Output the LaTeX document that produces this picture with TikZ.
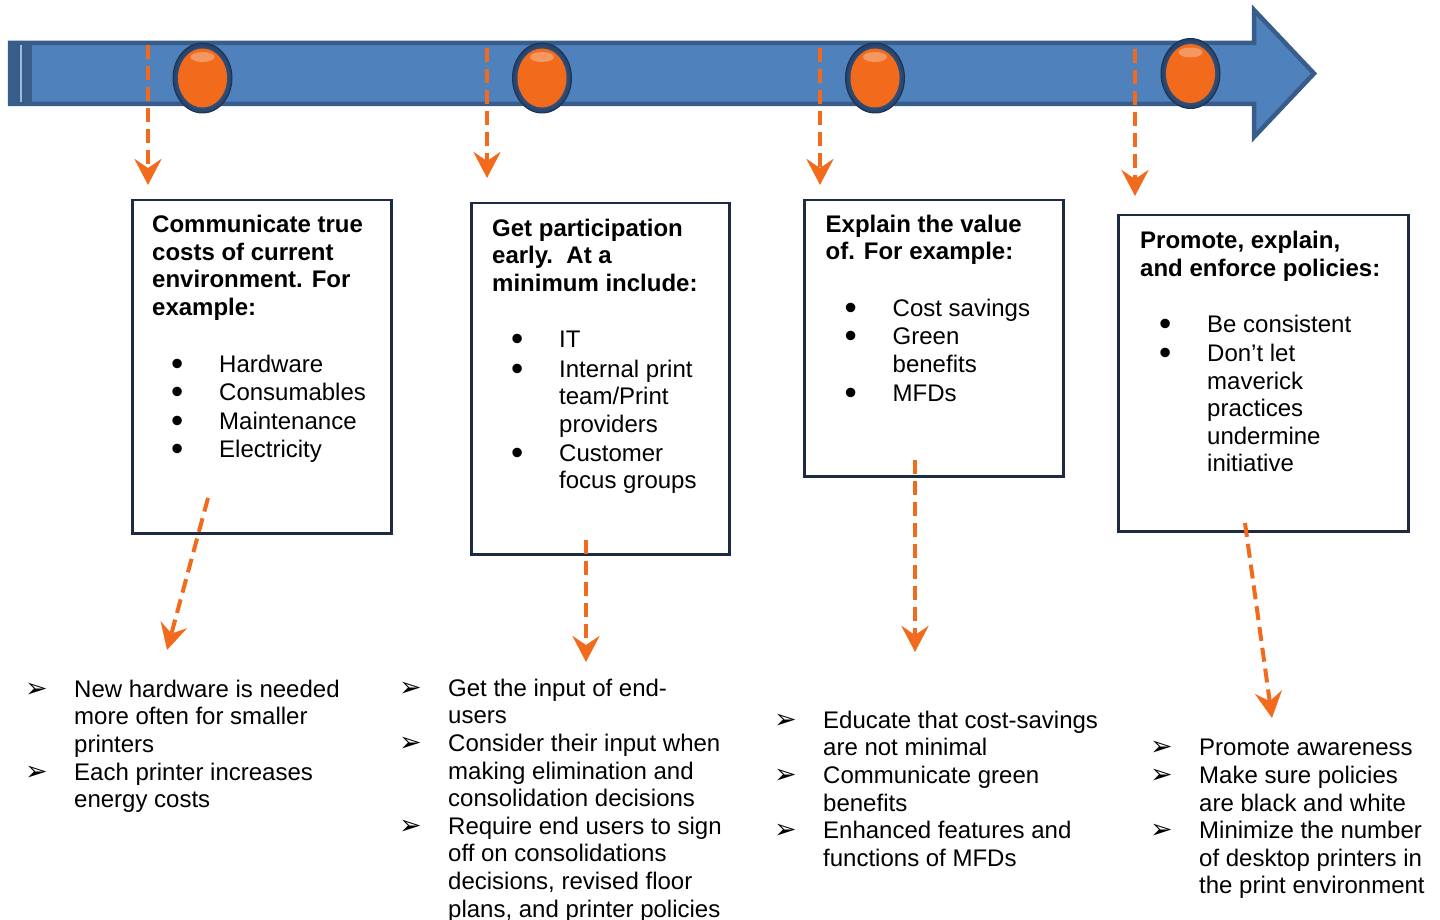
\documentclass[tikz,border=0pt]{standalone}
\usepackage{fontspec}
\setmainfont{Liberation Sans}
\newfontfamily\dingfont{DejaVu Sans}
\usetikzlibrary{arrows.meta,positioning,shapes.geometric}

\definecolor{tlblue}{HTML}{4F81BD}
\definecolor{tledge}{HTML}{385D8A}
\definecolor{tlorange}{HTML}{F26B1D}
\definecolor{boxnavy}{HTML}{1C2A43}
\definecolor{balldark}{HTML}{22406A}

% bullet rows inside the boxes and below them
\newcommand{\bitem}[1]{\hspace*{19pt}\makebox[48pt][l]{\smash{\raisebox{-3pt}{\scalebox{1.45}{\textbullet}}}}#1}
\newcommand{\bcont}[1]{\hspace*{67pt}#1}
\newcommand{\aitem}[1]{\makebox[46pt][l]{\hspace*{-3pt}\dingfont\fontsize{27}{27}\selectfont ➢}#1}
\newcommand{\acont}[1]{\hspace*{46pt}#1}

\begin{document}
\begin{tikzpicture}[x=1pt, y=-1pt,
  box/.style={draw=boxnavy, line width=2.5pt, anchor=north west, inner sep=0pt},
  txt/.style={anchor=north west, inner sep=0pt, font=\fontsize{24}{27.6}\selectfont},
  ball/.style={ellipse, minimum width=59pt, minimum height=70pt, inner sep=0pt,
    draw=balldark!80!black, line width=1pt, inner color=balldark!55, outer color=balldark,
    path picture={
      \fill[tlorange] (path picture bounding box.center) ellipse (24.5pt and 29.5pt);
      \fill[white, opacity=0.3] ([yshift=21pt]path picture bounding box.center) ellipse (12pt and 5pt);
    }},
  flow/.style={tlorange, line width=4pt, dash pattern=on 14pt off 7pt,
    -{Stealth[length=26pt, width=27pt, inset=9pt]}}]

  \path[use as bounding box, fill=white] (0,0) rectangle (1440,920);

  % Timeline arrow
  \draw[tledge, fill=tlblue, line width=4.5pt, line join=miter]
    (10,43) -- (1254,43) -- (1254,10) -- (1314,73.5) -- (1254,137) -- (1254,104) -- (10,104) -- cycle;
  \fill[tledge] (8,41) rectangle (32,106);
  \draw[tlblue!55!white, line width=1.5pt] (21,45) -- (21,102);

  % Milestones
  \foreach \n/\x/\y in {1/202.5/78, 2/542/78, 3/875/78, 4/1190.5/73.5}
    \node[ball] (A\n) at (\x,\y) {};

  % Boxes
  \node[box, minimum width=259pt, minimum height=333pt] (B1) at (131,199) {};
  \node[box, minimum width=258pt, minimum height=351pt] (B2) at (470,202) {};
  \node[box, minimum width=259pt, minimum height=276pt] (B3) at (803,199) {};
  \node[box, minimum width=290pt, minimum height=316pt] (B4) at (1117,214) {};

  % Box texts
  \node[txt] (T1) at ([xshift=21pt, yshift=-14pt]B1.north west) {\begin{tabular}{@{}l@{}}
    \textbf{Communicate true}\\
    \textbf{costs of current}\\
    \textbf{environment. For}\\
    \textbf{example:}\\
    \\[1.5pt]
    \bitem{Hardware}\\[1pt]
    \bitem{Consumables}\\[1pt]
    \bitem{Maintenance}\\[1pt]
    \bitem{Electricity}
  \end{tabular}};
  \node[txt] (T2) at ([xshift=22pt, yshift=-14.5pt]B2.north west) {\begin{tabular}{@{}l@{}}
    \textbf{Get participation}\\
    \textbf{early.\ \ At a}\\
    \textbf{minimum include:}\\
    \\[1.5pt]
    \bitem{IT}\\[1.5pt]
    \bitem{Internal print}\\
    \bcont{team/Print}\\
    \bcont{providers}\\[1.5pt]
    \bitem{Customer}\\
    \bcont{focus groups}
  \end{tabular}};
  \node[txt] (T3) at ([xshift=22.5pt, yshift=-13.5pt]B3.north west) {\begin{tabular}{@{}l@{}}
    \textbf{Explain the value}\\
    \textbf{of. For example:}\\
    \\[1.5pt]
    \bitem{Cost savings}\\[1pt]
    \bitem{Green}\\
    \bcont{benefits}\\[1pt]
    \bitem{MFDs}
  \end{tabular}};
  \node[txt] (T4) at ([xshift=23pt, yshift=-15pt]B4.north west) {\begin{tabular}{@{}l@{}}
    \textbf{Promote, explain,}\\
    \textbf{and enforce policies:}\\
    \\[1.5pt]
    \bitem{Be consistent}\\[1pt]
    \bitem{Don’t let}\\
    \bcont{maverick}\\
    \bcont{practices}\\
    \bcont{undermine}\\
    \bcont{initiative}
  \end{tabular}};

  % Lists below
  \node[txt] (L1) at (28,677.7) {\begin{tabular}{@{}l@{}}
    \aitem{New hardware is needed}\\
    \acont{more often for smaller}\\
    \acont{printers}\\
    \aitem{Each printer increases}\\
    \acont{energy costs}
  \end{tabular}};
  \node[txt] (L2) at (402,676.7) {\begin{tabular}{@{}l@{}}
    \aitem{Get the input of end-}\\
    \acont{users}\\
    \aitem{Consider their input when}\\
    \acont{making elimination and}\\
    \acont{consolidation decisions}\\
    \aitem{Require end users to sign}\\
    \acont{off on consolidations}\\
    \acont{decisions, revised floor}\\
    \acont{plans, and printer policies}
  \end{tabular}};
  \node[txt] (L3) at (777,708.7) {\begin{tabular}{@{}l@{}}
    \aitem{Educate that cost-savings}\\
    \acont{are not minimal}\\
    \aitem{Communicate green}\\
    \acont{benefits}\\
    \aitem{Enhanced features and}\\
    \acont{functions of MFDs}
  \end{tabular}};
  \node[txt] (L4) at (1153,736.4) {\begin{tabular}{@{}l@{}}
    \aitem{Promote awareness}\\
    \aitem{Make sure policies}\\
    \acont{are black and white}\\
    \aitem{Minimize the number}\\
    \acont{of desktop printers in}\\
    \acont{the print environment}
  \end{tabular}};

  % Dashed arrows, timeline to boxes
  \foreach \n/\x/\ya/\yb in {1/148/45/185, 2/487/48/178, 3/820/48/185, 4/1135/49/196} {
    \coordinate (P\n) at (\x,\ya);
    \coordinate (Q\n) at (\x,\yb);
    \draw[flow] (P\n) -- (Q\n);
  }

  % Dashed arrows, boxes to lists
  \foreach \n/\xa/\ya/\xb/\yb in {1/208/498/167/650, 2/586/540/586/662, 3/915/460/915/652, 4/1245/523/1272/718} {
    \coordinate (R\n) at (\xa,\ya);
    \coordinate (S\n) at (\xb,\yb);
    \draw[flow] (R\n) -- (S\n);
  }

\end{tikzpicture}
\end{document}
